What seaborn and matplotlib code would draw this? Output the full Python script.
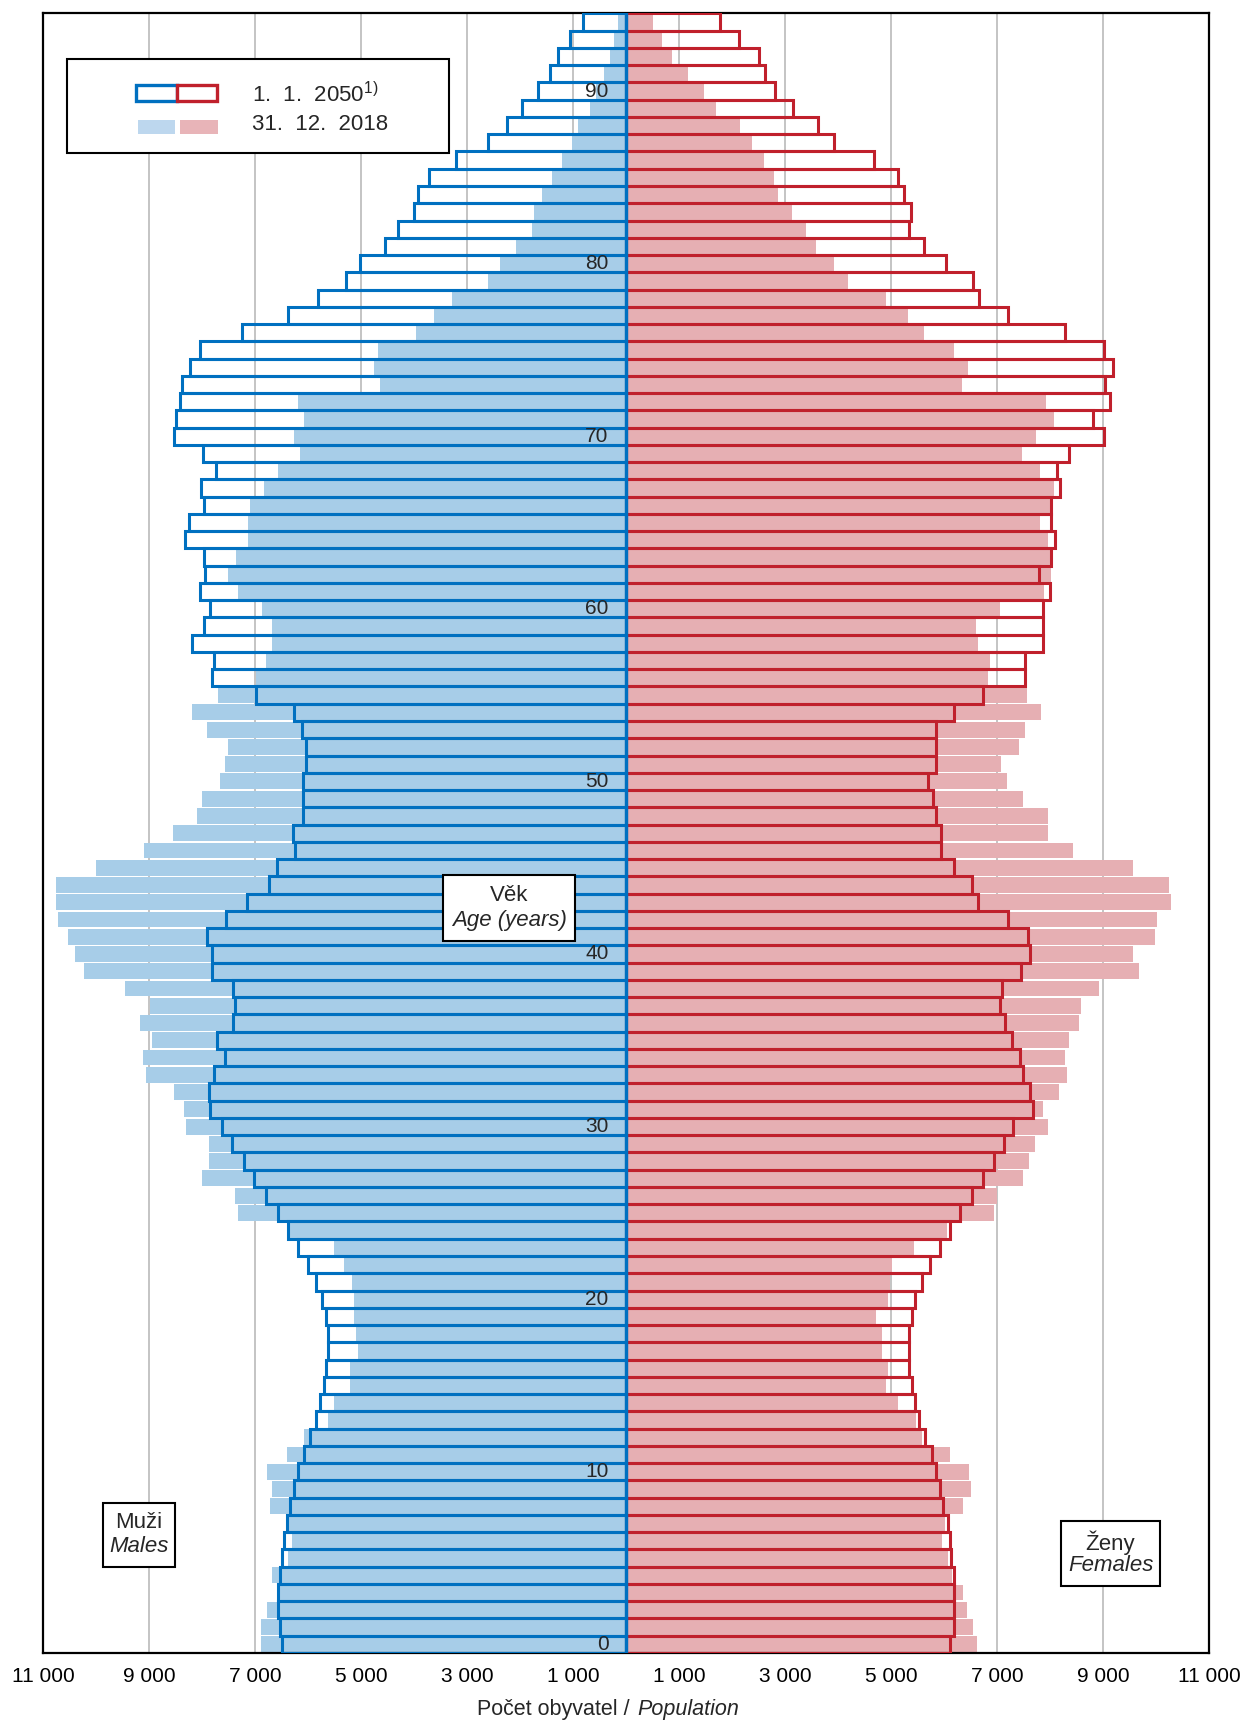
import numpy as np
import pandas as pd
import matplotlib
matplotlib.use("Agg")
import matplotlib.pyplot as plt
import seaborn as sns
from matplotlib.patches import Rectangle

# age 0 .. 94
ages = np.arange(95)

male_2050 = [6484, 6520, 6563, 6563, 6520, 6484, 6448, 6404, 6332, 6260,
             6181, 6072, 5957, 5856, 5769, 5697, 5661, 5625, 5625, 5661,
             5733, 5841, 5993, 6195, 6375, 6563, 6787, 7011, 7199, 7430,
             7625, 7841, 7877, 7769, 7574, 7718, 7422, 7386, 7422, 7805,
             7805, 7913, 7538, 7155, 6744, 6592, 6253, 6289, 6087, 6087,
             6087, 6036, 6036, 6108, 6267, 6975, 7805, 7769, 8181, 7964,
             7848, 8036, 7935, 7964, 8325, 8253, 7964, 8022, 7733, 7986,
             8527, 8491, 8412, 8368, 8224, 8036, 7242, 6375, 5805, 5278,
             5018, 4556, 4296, 3993, 3921, 3726, 3199, 2606, 2253, 1957,
             1653, 1430, 1278, 1047, 816]

male_2018 = [6895, 6895, 6780, 6540, 6679, 6375, 6303, 6360, 6708, 6679,
             6780, 6404, 6072, 5625, 5509, 5206, 5206, 5054, 5090, 5126,
             5126, 5170, 5321, 5509, 6350, 7314, 7386, 7993, 7877, 7877,
             8296, 8339, 8520, 9047, 9119, 8939, 9162, 8982, 9458, 10217,
             10404, 10520, 10708, 10751, 10751, 10000, 9090, 8556, 8101, 7993,
             7653, 7574, 7502, 7913, 8181, 7690, 6989, 6794, 6679, 6679,
             6866, 7314, 7502, 7357, 7126, 7126, 7090, 6830, 6563, 6144,
             6260, 6072, 6188, 4635, 4751, 4679, 3957, 3617, 3278, 2599,
             2375, 2072, 1769, 1733, 1581, 1394, 1206, 1018, 903, 671,
             560, 412, 296, 224, 144]

female_2050 = [6105, 6184, 6184, 6184, 6184, 6141, 6105, 6069, 5989, 5917,
               5845, 5765, 5650, 5534, 5462, 5390, 5347, 5347, 5347, 5390,
               5462, 5578, 5729, 5917, 6105, 6300, 6523, 6740, 6935, 7123,
               7310, 7686, 7614, 7498, 7426, 7274, 7159, 7051, 7087, 7462,
               7614, 7578, 7209, 6639, 6523, 6184, 5946, 5946, 5845, 5801,
               5693, 5845, 5845, 5845, 6184, 6740, 7534, 7534, 7874, 7859,
               7874, 7996, 7801, 8025, 8098, 8018, 8018, 8184, 8134, 8365,
               9014, 8820, 9123, 9036, 9195, 9014, 8292, 7202, 6668, 6552,
               6032, 5621, 5347, 5383, 5238, 5123, 4675, 3917, 3614, 3159,
               2819, 2632, 2516, 2141, 1773]

female_2018 = [6632, 6552, 6437, 6365, 6150, 6069, 5953, 6020, 6365, 6516,
               6480, 6105, 5578, 5477, 5130, 4899, 4942, 4827, 4827, 4711,
               4942, 4978, 5014, 5426, 6060, 6935, 7007, 7498, 7606, 7722,
               7953, 7874, 8177, 8328, 8292, 8365, 8552, 8588, 8928, 9686,
               9570, 9989, 10025, 10292, 10249, 9570, 8437, 7953, 7953, 7498,
               7195, 7079, 7419, 7534, 7838, 7570, 6827, 6863, 6639, 6596,
               7051, 7881, 8025, 8011, 7960, 7809, 8004, 8069, 7809, 7469,
               7729, 8069, 7917, 6336, 6444, 6184, 5614, 5318, 4899, 4184,
               3917, 3578, 3390, 3123, 2863, 2784, 2596, 2372, 2148, 1693,
               1469, 1166, 863, 675, 516]

age_labels = list(range(0, 91, 10))
x_ticks = list(range(-11000, 11001, 2000))

BLUE = "#0070C0"
RED = "#C0202C"
LIGHT_BLUE = "#A7CDE8"
PINK = "#E6AFB3"
LEG_BLUE = "#BDD7EE"
LEG_PINK = "#E8B4B8"

sns.set_style("white")
plt.rcParams["font.family"] = ["Liberation Sans", "DejaVu Sans"]
plt.rcParams["mathtext.fontset"] = "custom"
plt.rcParams["mathtext.rm"] = "Liberation Sans"
plt.rcParams["mathtext.it"] = "Liberation Sans:italic"

df = pd.DataFrame({
    "age": ages,
    "m2050": -np.array(male_2050),
    "m2018": -np.array(male_2018),
    "f2050": np.array(female_2050),
    "f2018": np.array(female_2018),
})

fig = plt.figure(figsize=(12.46, 17.22), dpi=100)
ax = fig.add_axes([0.0345, 0.0401, 0.9358, 0.9521])


def bars(col, color, fill, width, lw, z):
    sns.barplot(data=df, x=col, y="age", orient="h", native_scale=True,
                color=color, saturation=1, fill=fill, width=width,
                linewidth=lw, errorbar=None, zorder=z, ax=ax)


# 31.12.2018 filled, 1.1.2050 outlined
bars("f2018", PINK, True, 0.92, 0, 1)
bars("m2018", LIGHT_BLUE, True, 0.92, 0, 1)
bars("f2050", RED, False, 1.0, 2.2, 3)
bars("m2050", BLUE, False, 1.0, 2.2, 3)
ax.axvline(0, color=BLUE, lw=2.4, zorder=4)

ax.set_xlim(-11000, 11000)
ax.set_ylim(-0.5, 94.5)
ax.set_xlabel("")
ax.set_ylabel("")
ax.set_yticks([])
ax.set_xticks(x_ticks)
ax.set_xticklabels([f"{abs(v):,}".replace(",", " ") for v in x_ticks], fontsize=15)
ax.tick_params(axis="x", direction="out", length=4, width=1.5, pad=6, colors="black")
ax.xaxis.grid(True, color="#BFBFBF", lw=1.3)
ax.set_axisbelow(True)
for s in ax.spines.values():
    s.set_color("black")
    s.set_linewidth(1.6)

for a in age_labels:
    ax.text(-330, a, str(a), ha="right", va="center", fontsize=15, zorder=5)

# x axis title, slash at the centre
ax.text(0.5035, -0.0345, "Počet obyvatel /", transform=ax.transAxes,
        ha="right", va="center", fontsize=15.5)
ax.text(0.5095, -0.0345, "Population", transform=ax.transAxes,
        ha="left", va="center", fontsize=15.5, style="italic")


def boxed(x0, y0, x1, y1, line1, line2, yt1, yt2):
    ax.add_patch(Rectangle((x0, y0), x1 - x0, y1 - y0, transform=ax.transAxes,
                           fc="white", ec="black", lw=1.5, zorder=6))
    xc = (x0 + x1) / 2
    ax.text(xc, yt1, line1, transform=ax.transAxes, ha="center", va="center",
            fontsize=16, zorder=7)
    ax.text(xc, yt2, line2, transform=ax.transAxes, ha="center", va="center",
            fontsize=16, style="italic", zorder=7)


boxed(0.3431, 0.4343, 0.4563, 0.4745, "Věk", "Age (years)", 0.4620, 0.4468)
boxed(0.0515, 0.0525, 0.1132, 0.0915, "Muži", "Males", 0.0796, 0.0650)
boxed(0.8731, 0.0409, 0.9580, 0.0805, "Ženy", "Females", 0.0674, 0.0534)

# legend
ax.add_patch(Rectangle((0.0206, 0.9149), 0.3276, 0.0573, transform=ax.transAxes,
                       fc="white", ec="black", lw=1.5, zorder=6))
ax.add_patch(Rectangle((0.0798, 0.9466), 0.0351, 0.0098, transform=ax.transAxes,
                       fc="white", ec=BLUE, lw=2.4, zorder=7))
ax.add_patch(Rectangle((0.1149, 0.9466), 0.0343, 0.0098, transform=ax.transAxes,
                       fc="white", ec=RED, lw=2.4, zorder=7))
ax.add_patch(Rectangle((0.0815, 0.9265), 0.0321, 0.0085, transform=ax.transAxes,
                       fc=LEG_BLUE, ec="none", zorder=7))
ax.add_patch(Rectangle((0.1179, 0.9265), 0.0322, 0.0085, transform=ax.transAxes,
                       fc=LEG_PINK, ec="none", zorder=7))
ax.text(0.1792, 0.9505, "1.  1.  2050$^{1)}$", transform=ax.transAxes,
        ha="left", va="center", fontsize=16, zorder=8)
ax.text(0.1792, 0.9322, "31.  12.  2018", transform=ax.transAxes,
        ha="left", va="center", fontsize=16, zorder=8)

fig.savefig("out.png", dpi=100)
